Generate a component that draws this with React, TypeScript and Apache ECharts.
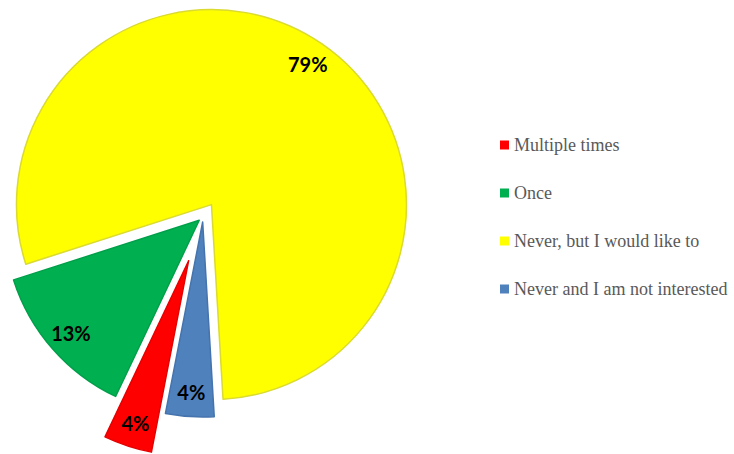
import React, { useEffect, useRef } from "react";
import * as echarts from "echarts";

const categories = [
  "Multiple times",
  "Once",
  "Never, but I would like to",
  "Never and I am not interested",
];
const values = [4, 13, 79, 4];
const colors = ["#FF0000", "#00B050", "#FFFF00", "#4F81BD"];
const borderColors = ["#E60000", "#00A04A", "#DADA30", "#4573AD"];
const explodeOffsets = [46, 5, 15, 5];

const CENTER = [203, 217];
const RADIUS = 195;

export default function App() {
  const ref = useRef<HTMLDivElement>(null);
  useEffect(() => {
    if (!ref.current) return;
    const chart = echarts.init(ref.current, null, { renderer: "svg" });

    const sliceSeries = categories.map((_, i) => ({
      type: "pie",
      center: CENTER,
      radius: [0, RADIUS],
      startAngle: 259,
      clockwise: true,
      selectedMode: "multiple",
      selectedOffset: explodeOffsets[i],
      silent: true,
      label: { show: false },
      labelLine: { show: false },
      emphasis: { disabled: true },
      data: categories.map((name, j) => {
        const style =
          j === i
            ? { color: colors[j], borderColor: borderColors[j], borderWidth: 1.5 }
            : { color: "rgba(0,0,0,0)", borderWidth: 0 };
        return {
          name,
          value: values[j],
          selected: j === i,
          itemStyle: style,
          select: { itemStyle: style },
        };
      }),
    }));

    const labelSeries = categories.map((_, i) => ({
      type: "pie",
      center: CENTER,
      radius: [140, RADIUS],
      startAngle: 259,
      clockwise: true,
      selectedMode: "multiple",
      selectedOffset: explodeOffsets[i],
      silent: true,
      percentPrecision: 0,
      labelLine: { show: false },
      emphasis: { disabled: true },
      data: categories.map((name, j) => ({
        name,
        value: values[j],
        selected: j === i,
        itemStyle: { color: "rgba(0,0,0,0)", borderWidth: 0 },
        select: { itemStyle: { color: "rgba(0,0,0,0)", borderWidth: 0 } },
        label: {
          show: j === i,
          position: "inside",
          formatter: "{d}%",
          color: "#000000",
          fontFamily: "Lato, 'Open Sans', sans-serif",
          fontWeight: "bold",
          fontSize: 20,
        },
      })),
    }));

    chart.setOption({
      animation: false,
      backgroundColor: "#FFFFFF",
      legend: {
        orient: "vertical",
        left: 495,
        top: 131,
        itemWidth: 9,
        itemHeight: 9,
        itemGap: 30,
        icon: "rect",
        selectedMode: false,
        textStyle: {
          fontFamily: "'Liberation Serif', 'DejaVu Serif', serif",
          fontSize: 18,
          color: "#595959",
          lineHeight: 18,
        },
        data: categories.map((name, i) => ({
          name,
          itemStyle: { color: colors[i], borderWidth: 0 },
        })),
      },
      series: [...sliceSeries, ...labelSeries],
    });
    return () => chart.dispose();
  }, []);
  return (
    <div
      ref={ref}
      style={{ position: "fixed", left: 0, top: 0, width: 734, height: 454 }}
    />
  );
}
